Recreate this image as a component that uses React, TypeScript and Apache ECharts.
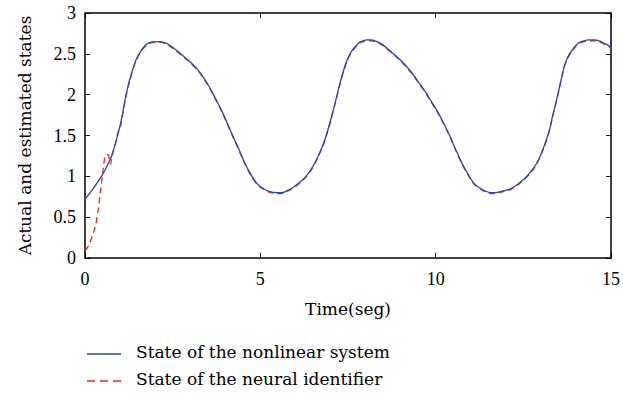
import React, { useEffect, useRef } from "react";
import * as echarts from "echarts";

const timeSystem = [0, 0.25, 0.51, 0.75, 0.93, 1.05, 1.18, 1.32, 1.46, 1.6, 1.74, 1.86, 1.97, 2.14, 2.31, 2.5, 2.76, 3.0, 3.21, 3.38, 3.54, 3.7, 3.88, 4.05, 4.22, 4.4, 4.56, 4.72, 4.89, 5.05, 5.23, 5.46, 5.62, 5.79, 5.95, 6.13, 6.3, 6.47, 6.64, 6.81, 6.92, 7.03, 7.15, 7.26, 7.37, 7.48, 7.6, 7.71, 7.82, 7.93, 8.05, 8.16, 8.33, 8.5, 8.66, 8.83, 9.05, 9.28, 9.5, 9.73, 9.9, 10.07, 10.24, 10.41, 10.58, 10.75, 10.92, 11.08, 11.25, 11.42, 11.56, 11.7, 11.9, 12.1, 12.33, 12.55, 12.72, 12.88, 13.05, 13.22, 13.33, 13.45, 13.56, 13.67, 13.78, 13.9, 14.06, 14.23, 14.37, 14.52, 14.66, 14.8, 14.9, 15];
const stateSystem = [0.72, 0.86, 1.03, 1.24, 1.5, 1.72, 2.02, 2.25, 2.43, 2.54, 2.61, 2.64, 2.65, 2.65, 2.63, 2.58, 2.49, 2.4, 2.31, 2.21, 2.1, 1.97, 1.82, 1.66, 1.49, 1.32, 1.16, 1.03, 0.92, 0.86, 0.82, 0.8, 0.8, 0.83, 0.87, 0.93, 1.0, 1.1, 1.24, 1.41, 1.56, 1.73, 1.93, 2.12, 2.29, 2.43, 2.53, 2.59, 2.64, 2.66, 2.67, 2.67, 2.65, 2.61, 2.55, 2.49, 2.4, 2.29, 2.16, 2.02, 1.9, 1.78, 1.64, 1.49, 1.32, 1.16, 1.03, 0.92, 0.86, 0.82, 0.8, 0.8, 0.82, 0.84, 0.9, 0.98, 1.06, 1.16, 1.32, 1.53, 1.73, 1.94, 2.15, 2.35, 2.47, 2.55, 2.63, 2.66, 2.67, 2.67, 2.66, 2.63, 2.61, 2.58];

const timeIdentifier = [0, 0.1, 0.2, 0.3, 0.38, 0.45, 0.52, 0.57, 0.62, 0.67, 0.7, 0.73, 0.76, 0.8, 0.88, 0.95, 1.0, 1.05, 1.18, 1.32, 1.46, 1.6, 1.74, 1.86, 1.97, 2.14, 2.31, 2.5, 2.76, 3.0, 3.21, 3.38, 3.54, 3.7, 3.88, 4.05, 4.22, 4.4, 4.56, 4.72, 4.89, 5.05, 5.23, 5.46, 5.62, 5.79, 5.95, 6.13, 6.3, 6.47, 6.64, 6.81, 6.92, 7.03, 7.15, 7.26, 7.37, 7.48, 7.6, 7.71, 7.82, 7.93, 8.05, 8.16, 8.33, 8.5, 8.66, 8.83, 9.05, 9.28, 9.5, 9.73, 9.9, 10.07, 10.24, 10.41, 10.58, 10.75, 10.92, 11.08, 11.25, 11.42, 11.56, 11.7, 11.9, 12.1, 12.33, 12.55, 12.72, 12.88, 13.05, 13.22, 13.33, 13.45, 13.56, 13.67, 13.78, 13.9, 14.06, 14.23, 14.37, 14.52, 14.66, 14.8, 14.9, 15];
const stateIdentifier = [0.09, 0.15, 0.26, 0.4, 0.6, 0.85, 1.1, 1.24, 1.27, 1.26, 1.18, 1.15, 1.22, 1.3, 1.42, 1.55, 1.58, 1.7, 2.0, 2.24, 2.42, 2.53, 2.6, 2.63, 2.64, 2.64, 2.62, 2.57, 2.48, 2.39, 2.3, 2.2, 2.09, 1.96, 1.81, 1.65, 1.48, 1.31, 1.15, 1.02, 0.91, 0.85, 0.81, 0.79, 0.79, 0.82, 0.86, 0.92, 0.99, 1.09, 1.23, 1.4, 1.55, 1.72, 1.92, 2.11, 2.28, 2.42, 2.52, 2.58, 2.63, 2.65, 2.66, 2.66, 2.64, 2.6, 2.54, 2.48, 2.39, 2.28, 2.15, 2.01, 1.89, 1.77, 1.63, 1.48, 1.31, 1.15, 1.02, 0.91, 0.85, 0.81, 0.79, 0.79, 0.81, 0.83, 0.89, 0.97, 1.05, 1.15, 1.31, 1.52, 1.72, 1.93, 2.14, 2.34, 2.46, 2.54, 2.62, 2.65, 2.66, 2.66, 2.65, 2.62, 2.6, 2.57];

const xTicks = [0, 5, 10, 15];
const yTicks = [0, 0.5, 1, 1.5, 2, 2.5, 3];

const seriesNames = ["State of the nonlinear system", "State of the neural identifier"];

const TICK_FONT = "Liberation Serif";
const TEXT_FONT = "DejaVu Serif";
const BLUE = "#2b45b0";
const RED = "#ff1a1a";

export default function App() {
  const ref = useRef<HTMLDivElement>(null);
  useEffect(() => {
    if (!ref.current) return;
    const chart = echarts.init(ref.current, undefined, { renderer: "svg" });
    const sys = timeSystem.map((t, i) => [t, stateSystem[i]]);
    const ide = timeIdentifier.map((t, i) => [t, stateIdentifier[i]]);
    const axisCommon = {
      axisLine: { show: true, onZero: false, lineStyle: { color: "#000", width: 1.5 } },
      axisTick: { show: true, inside: true, length: 5, lineStyle: { color: "#000", width: 1 } },
      splitLine: { show: false },
    };
    const legendEntry = (y: number, name: string, color: string, dash: any) => [
      {
        type: "line",
        shape: { x1: 87, y1: y, x2: 121, y2: y },
        style: { stroke: color, lineWidth: 1.3, lineDash: dash },
      },
      {
        type: "text",
        left: 136,
        top: y - 11,
        style: { text: name, font: `17px "${TEXT_FONT}"`, fill: "#000" },
      },
    ];
    chart.setOption({
      animation: false,
      backgroundColor: "#fff",
      grid: { left: 85, right: 10, top: 13, bottom: 136, containLabel: false },
      graphic: [
        ...legendEntry(354, seriesNames[0], BLUE, null),
        ...legendEntry(381, seriesNames[1], RED, [8, 5]),
      ],
      xAxis: [
        {
          type: "value",
          min: xTicks[0],
          max: xTicks[xTicks.length - 1],
          interval: 5,
          position: "bottom",
          name: "Time(seg)",
          nameLocation: "middle",
          nameGap: 42,
          nameTextStyle: { fontFamily: TEXT_FONT, fontSize: 17, color: "#000" },
          axisLabel: { fontFamily: TICK_FONT, fontSize: 18, color: "#000", margin: 12 },
          ...axisCommon,
        },
        {
          type: "value",
          min: 0,
          max: 15,
          interval: 5,
          position: "top",
          axisLabel: { show: false },
          ...axisCommon,
        },
      ],
      yAxis: [
        {
          type: "value",
          min: yTicks[0],
          max: yTicks[yTicks.length - 1],
          interval: 0.5,
          position: "left",
          name: "Actual and estimated states",
          nameLocation: "middle",
          nameGap: 52,
          nameTextStyle: { fontFamily: TEXT_FONT, fontSize: 17, color: "#000" },
          axisLabel: { fontFamily: TICK_FONT, fontSize: 18, color: "#000", margin: 9 },
          ...axisCommon,
        },
        {
          type: "value",
          min: 0,
          max: 3,
          interval: 0.5,
          position: "right",
          axisLabel: { show: false },
          ...axisCommon,
        },
      ],
      series: [
        {
          name: seriesNames[0],
          type: "line",
          data: sys,
          smooth: 0.3,
          symbol: "none",
          lineStyle: { color: BLUE, width: 1.3, type: "solid" },
          itemStyle: { color: BLUE },
          z: 2,
        },
        {
          name: seriesNames[1],
          type: "line",
          data: ide,
          smooth: 0.3,
          symbol: "none",
          lineStyle: { color: RED, width: 1.3, type: [6, 4] },
          itemStyle: { color: RED },
          z: 1,
        },
      ],
    });
    return () => chart.dispose();
  }, []);
  return <div ref={ref} style={{ width: 623, height: 394, position: "absolute", left: 0, top: 0 }} />;
}
